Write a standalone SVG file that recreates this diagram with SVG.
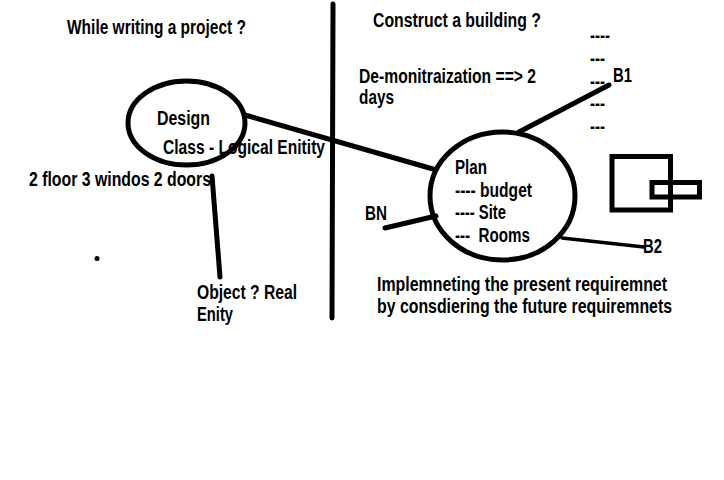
<svg xmlns="http://www.w3.org/2000/svg" width="724" height="480" viewBox="0 0 724 480">
<style>
text{font-family:"Liberation Sans",Arial,sans-serif;font-weight:bold;font-size:19.5px;fill:#000}
.s{fill:none;stroke:#000;stroke-width:5;stroke-linecap:round}
.t{stroke-width:3.5}
</style>
<rect width="724" height="480" fill="#fff"/>
<g id="labels">
<text x="67" y="33.5" textLength="179" lengthAdjust="spacingAndGlyphs">While writing a project ?</text>
<text x="373" y="27" textLength="168" lengthAdjust="spacingAndGlyphs">Construct a building ?</text>
<text x="359" y="82.5" textLength="177" lengthAdjust="spacingAndGlyphs">De-monitraization ==&gt; 2</text>
<text x="359" y="103.5" textLength="35" lengthAdjust="spacingAndGlyphs">days</text>
<text x="29" y="185.5" textLength="182" lengthAdjust="spacingAndGlyphs">2 floor 3 windos 2 doors</text>
<text transform="translate(377 290.5) scale(0.8 1)" x="0" y="0" textLength="362.5" lengthAdjust="spacingAndGlyphs">Implemneting the present requiremnet</text>
<text transform="translate(377 312.5) scale(0.8 1)" x="0" y="0" textLength="368.75" lengthAdjust="spacingAndGlyphs">by consdiering the future requiremnets</text>
<text x="590" y="42" textLength="20" lengthAdjust="spacingAndGlyphs">----</text>
<text x="590" y="65" textLength="15" lengthAdjust="spacingAndGlyphs">---</text>
<text x="590" y="88" textLength="15" lengthAdjust="spacingAndGlyphs">---</text>
<text x="590" y="110" textLength="15" lengthAdjust="spacingAndGlyphs">---</text>
<text x="590" y="133" textLength="15" lengthAdjust="spacingAndGlyphs">---</text>
<circle cx="97" cy="258.5" r="2.5" fill="#000"/>
</g>
<g id="divider">
<line class="s" x1="333" y1="4" x2="332" y2="318"/>
</g>
<g id="design">
<text x="157" y="125" textLength="53" lengthAdjust="spacingAndGlyphs">Design</text>
<text x="163" y="153.5" textLength="162" lengthAdjust="spacingAndGlyphs">Class - Logical Enitity</text>
<ellipse class="s" cx="186.5" cy="123" rx="58.5" ry="42"/>
</g>
<g id="object">
<text x="197" y="298.5" textLength="100" lengthAdjust="spacingAndGlyphs">Object ? Real</text>
<text x="197" y="321" textLength="36" lengthAdjust="spacingAndGlyphs">Enity</text>
</g>
<g id="plan">
<text x="455" y="173.5" textLength="32" lengthAdjust="spacingAndGlyphs">Plan</text>
<text x="455" y="196.5" textLength="77" lengthAdjust="spacingAndGlyphs">---- budget</text>
<text x="455" y="219" textLength="51" lengthAdjust="spacingAndGlyphs">---- Site</text>
<text x="455" y="241.5" textLength="75" lengthAdjust="spacingAndGlyphs" xml:space="preserve">---  Rooms</text>
<ellipse class="s" stroke-width="4.5" cx="502.5" cy="196" rx="72.5" ry="64"/>
</g>
<g id="b1"><text x="613" y="82" textLength="19" lengthAdjust="spacingAndGlyphs">B1</text></g>
<g id="bn"><text x="365" y="220" textLength="22" lengthAdjust="spacingAndGlyphs">BN</text></g>
<g id="b2"><text x="643" y="252.5" textLength="19" lengthAdjust="spacingAndGlyphs">B2</text></g>
<g id="building">
<rect x="612" y="156.5" width="58.5" height="53.5" fill="none" stroke="#000" stroke-width="5"/>
<rect x="652" y="182.5" width="47.5" height="14.5" fill="none" stroke="#000" stroke-width="5"/>
</g>
<g id="connectors">
<line class="s" x1="245" y1="115" x2="433" y2="169"/>
<line class="s" x1="212" y1="176" x2="220" y2="277"/>
<line class="s" x1="519" y1="132" x2="609" y2="85"/>
<line class="s" x1="385" y1="228" x2="436" y2="216"/>
<line class="s t" x1="562" y1="238" x2="644" y2="247"/>
</g>
</svg>
